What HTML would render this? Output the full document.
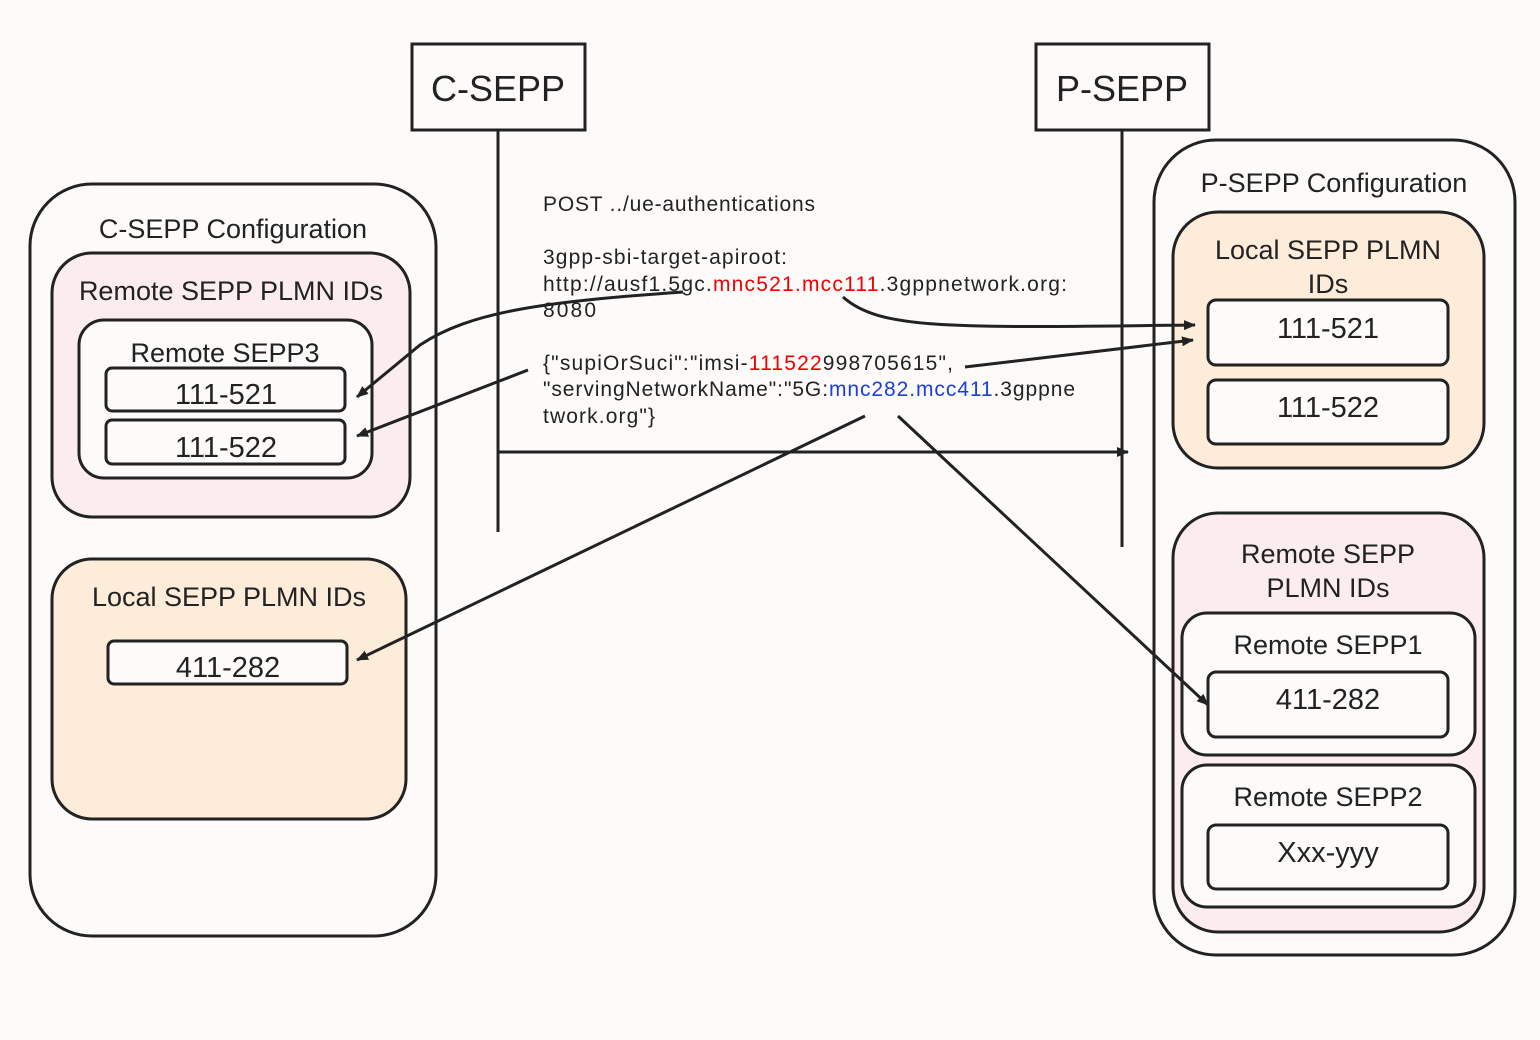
<!DOCTYPE html>
<html><head><meta charset="utf-8"><style>
html,body{margin:0;padding:0;background:#fcfbf9;}
svg{display:block;}
text{font-family:"Liberation Sans","DejaVu Sans",sans-serif;fill:#222;}
</style></head><body>
<svg width="1540" height="1040" viewBox="0 0 1540 1040" xmlns="http://www.w3.org/2000/svg">
<defs>
<marker id="ah" markerWidth="12" markerHeight="10" refX="11" refY="5" orient="auto" markerUnits="userSpaceOnUse">
<path d="M0,0 L12,5 L0,10 Z" fill="#222"/>
</marker>
</defs>
<rect width="1540" height="1040" fill="#fcfbf9"/>
<g stroke="#222" stroke-width="3" fill="none">
<rect x="412" y="44" width="173" height="86" fill="#fcfbf9"/>
<rect x="1036" y="44" width="173" height="86" fill="#fcfbf9"/>
<line x1="498" y1="130" x2="498" y2="532"/>
<line x1="1122" y1="130" x2="1122" y2="547"/>
<rect x="30" y="184" width="406" height="752" rx="62"/>
<rect x="52" y="253" width="358" height="264" rx="40" fill="#fbedee"/>
<rect x="79" y="320" width="293" height="158" rx="25" fill="#fcfbf9"/>
<rect x="106" y="368" width="239" height="43" rx="6" fill="#fcfbf9"/>
<rect x="106" y="420" width="239" height="44" rx="6" fill="#fcfbf9"/>
<rect x="52" y="559" width="354" height="260" rx="40" fill="#fcecd9"/>
<rect x="108" y="641" width="239" height="43" rx="6" fill="#fcfbf9"/>
<rect x="1154" y="140" width="361" height="815" rx="62"/>
<rect x="1173" y="212" width="311" height="256" rx="45" fill="#fcecd9"/>
<rect x="1208" y="300" width="240" height="65" rx="8" fill="#fcfbf9"/>
<rect x="1208" y="380" width="240" height="64" rx="8" fill="#fcfbf9"/>
<rect x="1173" y="513" width="311" height="419" rx="45" fill="#fbedee"/>
<rect x="1182" y="613" width="293" height="142" rx="25" fill="#fcfbf9"/>
<rect x="1208" y="672" width="240" height="65" rx="8" fill="#fcfbf9"/>
<rect x="1182" y="765" width="293" height="142" rx="25" fill="#fcfbf9"/>
<rect x="1208" y="825" width="240" height="64" rx="8" fill="#fcfbf9"/>
<line x1="498" y1="452" x2="1128" y2="452" marker-end="url(#ah)"/>
<path d="M683,292 C540,302 470,312 420,345 L357,397" marker-end="url(#ah)"/>
<path d="M528,370 L357,436" marker-end="url(#ah)"/>
<path d="M843,297 C880,330 950,328 1195,325" marker-end="url(#ah)"/>
<path d="M965,367 L1193,340" marker-end="url(#ah)"/>
<path d="M865,416 L357,660" marker-end="url(#ah)"/>
<path d="M898,416 L1208,705" marker-end="url(#ah)"/>
</g>
<g text-anchor="middle">
<text x="498" y="101" font-size="36">C-SEPP</text>
<text x="1122" y="101" font-size="36">P-SEPP</text>
<text x="233" y="238" font-size="27">C-SEPP Configuration</text>
<text x="231" y="300" font-size="27">Remote SEPP PLMN IDs</text>
<text x="225" y="362" font-size="27">Remote SEPP3</text>
<text x="226" y="404" font-size="29">111-521</text>
<text x="226" y="457" font-size="29">111-522</text>
<text x="229" y="606" font-size="27">Local SEPP  PLMN IDs</text>
<text x="228" y="677" font-size="29">411-282</text>
<text x="1334" y="192" font-size="27">P-SEPP Configuration</text>
<text x="1328" y="259" font-size="27">Local SEPP  PLMN</text>
<text x="1328" y="293" font-size="27">IDs</text>
<text x="1328" y="338" font-size="29">111-521</text>
<text x="1328" y="417" font-size="29">111-522</text>
<text x="1328" y="563" font-size="27">Remote SEPP</text>
<text x="1328" y="597" font-size="27">PLMN IDs</text>
<text x="1328" y="654" font-size="27">Remote SEPP1</text>
<text x="1328" y="709" font-size="29">411-282</text>
<text x="1328" y="806" font-size="27">Remote SEPP2</text>
<text x="1328" y="862" font-size="29">Xxx-yyy</text>
</g>
<g font-size="21">
<text x="543" y="211" textLength="272" lengthAdjust="spacing">POST ../ue-authentications</text>
<text x="543" y="264" textLength="244" lengthAdjust="spacing">3gpp-sbi-target-apiroot:</text>
<text x="543" y="291" textLength="524" lengthAdjust="spacing">http://ausf1.5gc.<tspan fill="#e00">mnc521.mcc111</tspan>.3gppnetwork.org:</text>
<text x="543" y="317" textLength="53" lengthAdjust="spacing">8080</text>
<text x="543" y="370" textLength="410" lengthAdjust="spacing">{"supiOrSuci":"imsi-<tspan fill="#e00">111522</tspan>998705615",</text>
<text x="543" y="396" textLength="532" lengthAdjust="spacing">"servingNetworkName":"5G:<tspan fill="#1a3ee0">mnc282.mcc411</tspan>.3gppne</text>
<text x="543" y="423" textLength="112" lengthAdjust="spacing">twork.org"}</text>
</g>
</svg>
</body></html>
